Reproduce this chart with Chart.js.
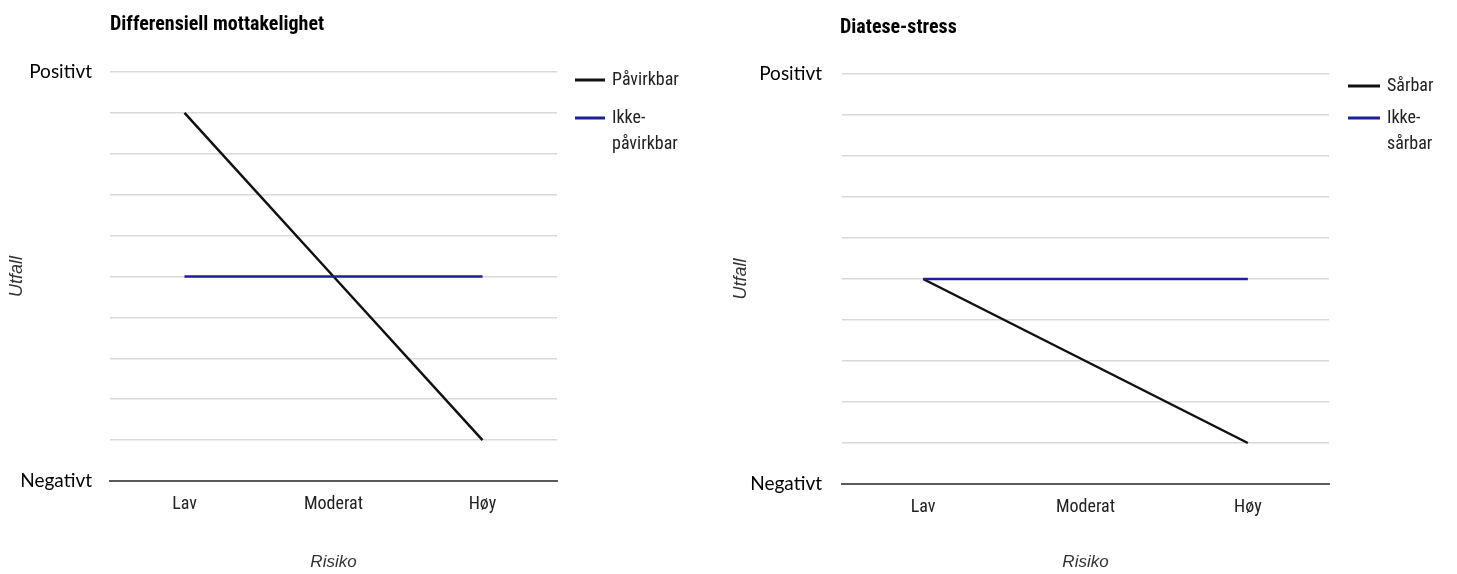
<!DOCTYPE html>
<html>
<head>
<meta charset="utf-8">
<script src="https://cdn.jsdelivr.net/npm/chart.js@4"></script>
<style>
  html, body { margin: 0; padding: 0; background: #fff; }
  .wrap { position: absolute; top: 0; height: 574px; }
  #left { left: 0; width: 720px; }
  #right { left: 720px; width: 737px; }
</style>
</head>
<body>
<div class="wrap" id="left"><canvas id="chartLeft"></canvas></div>
<div class="wrap" id="right"><canvas id="chartRight"></canvas></div>
<script>
const riskLevels = ["Lav", "Moderat", "Høy"];
const outcomeTicks = { 0: "Negativt", 10: "Positivt" };

const leftTitle = "Differensiell mottakelighet";
const leftSeriesNames = ["Påvirkbar", "Ikke-påvirkbar"];
const pavirkbar = [9, 5, 1];
const ikkePavirkbar = [5, 5, 5];

const rightTitle = "Diatese-stress";
const rightSeriesNames = ["Sårbar", "Ikke-sårbar"];
const sarbar = [5, 3, 1];
const ikkeSarbar = [5, 5, 5];

const narrow = "'Liberation Sans Narrow', 'Roboto Condensed', Roboto, sans-serif";
const calibriLike = "Lato, 'Open Sans', sans-serif";
const arialLike = "'Liberation Sans', Arial, sans-serif";

// title + wrapped legend drawn by hand, chart.js legend can't wrap like this
const annotate = {
  id: "annotate",
  afterDraw(chart, args, opts) {
    const ctx = chart.ctx;
    ctx.save();
    ctx.fillStyle = "#000";
    ctx.font = "bold 20px " + narrow;
    ctx.textBaseline = "middle";
    ctx.textAlign = "left";
    ctx.fillText(opts.title, opts.titleX, opts.titleY);

    ctx.font = "18px " + narrow;
    chart.data.datasets.forEach((ds, i) => {
      const y = opts.legendY[i];
      ctx.strokeStyle = ds.borderColor;
      ctx.lineWidth = 3;
      ctx.beginPath();
      ctx.moveTo(opts.legendX, y);
      ctx.lineTo(opts.legendX + opts.sampleW, y);
      ctx.stroke();
      const parts = ds.label.includes("-") ? ds.label.replace("-", "-\n").split("\n") : [ds.label];
      parts.forEach((p, j) => {
        ctx.fillStyle = "#222";
        ctx.fillText(p, opts.legendX + opts.sampleW + 7, y + j * 26);
      });
    });
    ctx.restore();
  }
};

function makeChart(id, names, seriesA, seriesB, layout) {
  const canvas = document.getElementById(id);
  const w = canvas.parentNode.clientWidth;
  canvas.width = w;
  canvas.height = 574;
  return new Chart(canvas.getContext("2d"), {
    type: "line",
    data: {
      labels: riskLevels,
      datasets: [
        { label: names[0], data: seriesA, borderColor: "#111111", borderWidth: 2.5, pointRadius: 0, order: 1 },
        { label: names[1], data: seriesB, borderColor: "#1f1f96", borderWidth: 2.5, pointRadius: 0, order: 0 }
      ]
    },
    options: {
      responsive: false,
      animation: false,
      layout: { padding: { top: layout.top, right: w - layout.right, left: 0, bottom: 0 } },
      plugins: {
        legend: { display: false },
        tooltip: { enabled: false },
        annotate: layout.annot
      },
      scales: {
        x: {
          offset: true,
          grid: { display: false, drawTicks: false },
          border: { display: true, color: "#5a5a5a", width: 2 },
          ticks: { color: "#222", font: { family: narrow, size: 18 }, padding: 13 },
          title: { display: true, text: "Risiko", color: "#333", font: { family: arialLike, size: 17, style: "italic" }, padding: { top: 0, bottom: 2 } },
          afterFit: s => { s.height = 574 - layout.bottom; }
        },
        y: {
          min: 0, max: 10,
          grid: {
            drawTicks: false,
            color: c => c.tick && c.tick.value === 0 ? "rgba(0,0,0,0)" : "#d9d9d9",
            lineWidth: 1.5
          },
          border: { display: false },
          ticks: {
            stepSize: 1,
            autoSkip: false,
            padding: layout.tickPad,
            color: "#000",
            font: { family: calibriLike, size: 19 },
            callback: v => outcomeTicks[v] || ""
          },
          title: { display: true, text: "Utfall", color: "#333", font: { family: arialLike, size: 18, style: "italic" }, padding: { top: layout.ytitlePad, bottom: 0 } },
          afterFit: s => { s.width = layout.left; }
        }
      }
    },
    plugins: [annotate]
  });
}

makeChart("chartLeft", leftSeriesNames, pavirkbar, ikkePavirkbar, {
  left: 110, right: 557, top: 72, bottom: 481, tickPad: 18, ytitlePad: 6,
  annot: { title: leftTitle, titleX: 110, titleY: 25, legendX: 575, sampleW: 30, legendY: [80, 118] }
});

makeChart("chartRight", rightSeriesNames, sarbar, ikkeSarbar, {
  left: 122, right: 609, top: 74, bottom: 484, tickPad: 20, ytitlePad: 10,
  annot: { title: rightTitle, titleX: 120, titleY: 28, legendX: 628, sampleW: 32, legendY: [86, 118] }
});
</script>
</body>
</html>
